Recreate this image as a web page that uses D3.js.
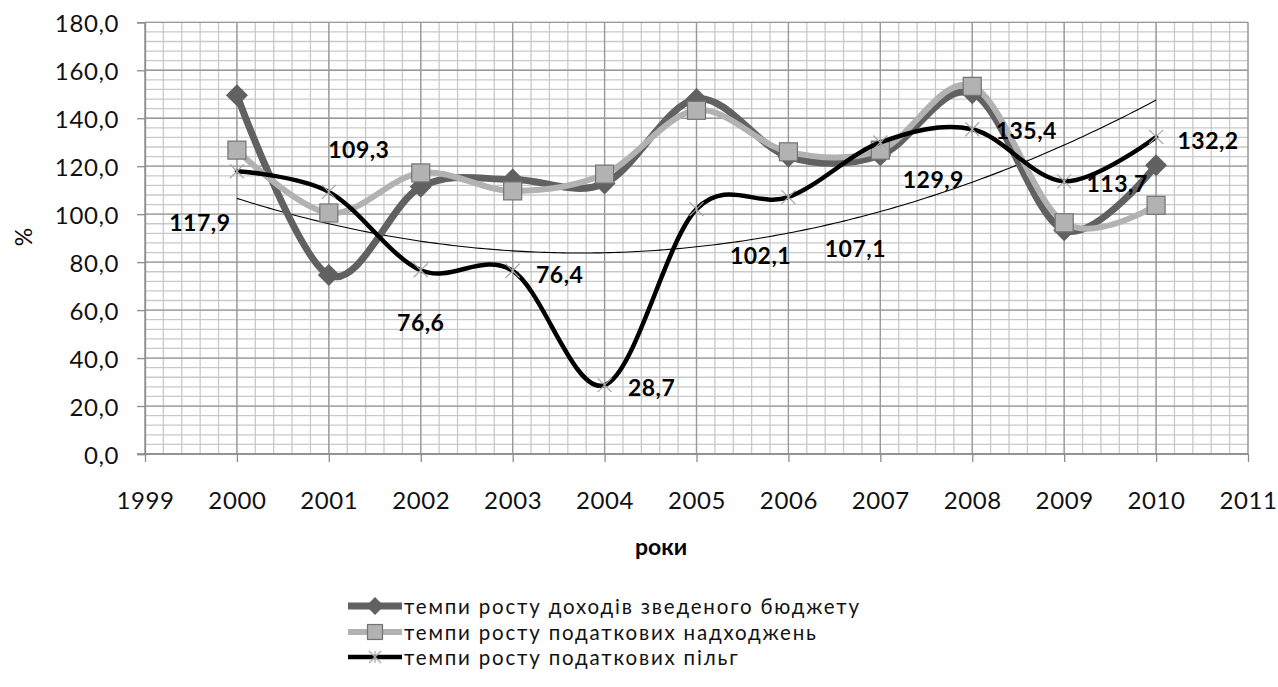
<!DOCTYPE html>
<html><head><meta charset="utf-8">
<script src="https://cdn.jsdelivr.net/npm/d3@7"></script>
<style>
html,body{margin:0;padding:0;background:#fff;}
text{font-family:Lato,"Open Sans",sans-serif;}
</style></head>
<body><svg id="c" width="1278" height="687"></svg>
<script>
const years = [2000,2001,2002,2003,2004,2005,2006,2007,2008,2009,2010];
const revenueGrowth = [149.6,74.6,111.4,114.5,112.8,148.0,124.0,124.6,150.4,93.3,120.4];
const taxIncomeGrowth = [126.7,100.5,117.2,109.7,116.7,143.3,126.0,126.7,153.3,96.4,103.7];
const taxBenefitGrowth = [117.9,109.3,76.6,76.4,28.7,102.1,107.1,129.9,135.4,113.7,132.2];
const benefitLabels = ["117,9","109,3","76,6","76,4","28,7","102,1","107,1","129,9","135,4","113,7","132,2"];
const seriesNames = ["темпи росту доходів зведеного бюджету","темпи росту податкових надходжень","темпи росту податкових пільг"];
const yTicks = [0,20,40,60,80,100,120,140,160,180];
const xTicks = [1999,2000,2001,2002,2003,2004,2005,2006,2007,2008,2009,2010,2011];
// label offsets (px) relative to data point, for the benefit series labels
const labelDx = [-37,30,0,47,47,64,67,53,54,53,52];
const labelDy = [51,-43,52,3,2,46,51,37,1,2,3];

const svg = d3.select("#c");
const L=145,R=1248,T=22.3,B=454;
const x = d3.scaleLinear().domain([1999,2011]).range([L,R]);
const y = d3.scaleLinear().domain([0,180]).range([B,T]);

// minor grid
const g = svg.append("g");
const minorX = d3.range(1999,2011.001,0.2), minorY = d3.range(0,180.001,4);
g.selectAll(".mx").data(minorX).join("line").attr("x1",d=>x(d)).attr("x2",d=>x(d)).attr("y1",T).attr("y2",B)
 .attr("stroke","#c9c9c9").attr("stroke-width",1.3);
g.selectAll(".my").data(minorY).join("line").attr("y1",d=>y(d)).attr("y2",d=>y(d)).attr("x1",L).attr("x2",R)
 .attr("stroke","#c9c9c9").attr("stroke-width",1.3);
// major grid
g.selectAll(".Mx").data(xTicks).join("line").attr("x1",d=>x(d)).attr("x2",d=>x(d)).attr("y1",T).attr("y2",B)
 .attr("stroke","#9a9a9a").attr("stroke-width",1.3);
g.selectAll(".My").data(yTicks).join("line").attr("y1",d=>y(d)).attr("y2",d=>y(d)).attr("x1",L).attr("x2",R)
 .attr("stroke","#9a9a9a").attr("stroke-width",1.3);

// axes
const xAxis = d3.axisBottom(x).tickValues(xTicks).tickFormat(d3.format("d")).tickSize(8);
const yAxis = d3.axisLeft(y).tickValues(yTicks).tickFormat(d=>d.toFixed(1).replace(".",",")).tickSize(8).tickPadding(18);
const ax = svg.append("g").attr("transform",`translate(0,${B})`).call(xAxis);
const ay = svg.append("g").attr("transform",`translate(${L},0)`).call(yAxis);
[ax,ay].forEach(a=>{
  a.select(".domain").attr("stroke","#8c8c8c").attr("stroke-width",1.3);
  a.selectAll(".tick line").attr("stroke","#8c8c8c").attr("stroke-width",1.3);
  a.selectAll("text").attr("font-size",24).attr("fill","#111").style("font-family","Lato,sans-serif").attr("letter-spacing",0.6);
});
ax.selectAll(".tick text").attr("dy",null).attr("y",45).attr("dominant-baseline","central");
ay.selectAll(".tick text").attr("dy",null).attr("dominant-baseline","central");
ax.select(".domain").attr("d",`M${L-8},0H${R}`);

// trendline: quadratic least-squares fit of benefit series
(function(){
  const n=years.length, xs=years.map(v=>v-2005), ys=taxBenefitGrowth;
  const S=k=>d3.sum(xs,v=>Math.pow(v,k));
  const Sy=k=>d3.sum(xs,(v,i)=>Math.pow(v,k)*ys[i]);
  const A=[[n,S(1),S(2)],[S(1),S(2),S(3)],[S(2),S(3),S(4)]], bb=[Sy(0),Sy(1),Sy(2)];
  for(let i=0;i<3;i++){for(let j=i+1;j<3;j++){const f=A[j][i]/A[i][i];for(let k=i;k<3;k++)A[j][k]-=f*A[i][k];bb[j]-=f*bb[i];}}
  const c=[0,0,0];for(let i=2;i>=0;i--){let s=bb[i];for(let k=i+1;k<3;k++)s-=A[i][k]*c[k];c[i]=s/A[i][i];}
  const pts=d3.range(2000,2010.001,0.05).map(t=>{const u=t-2005;return [x(t),y(c[0]+c[1]*u+c[2]*u*u)];});
  svg.append("path").attr("d",d3.line()(pts)).attr("fill","none").attr("stroke","#000").attr("stroke-width",1.1);
})();

const curve = d3.curveCardinal.tension(0);
const line = d3.line().curve(curve);
function drawLine(vals,color,w){
  svg.append("path").attr("d",line(years.map((yr,i)=>[x(yr),y(vals[i])])))
    .attr("fill","none").attr("stroke",color).attr("stroke-width",w).attr("stroke-linejoin","round").attr("stroke-linecap","round");
}
function diamond(sel,cx,cy,r){sel.append("path").attr("d",`M${cx},${cy-r}L${cx+r},${cy}L${cx},${cy+r}L${cx-r},${cy}Z`).attr("fill","#616161");}
function square(sel,cx,cy,s){sel.append("rect").attr("x",cx-s/2).attr("y",cy-s/2).attr("width",s).attr("height",s).attr("fill","#b2b2b2").attr("stroke","#737373").attr("stroke-width",1.2);}
function star(sel,cx,cy,r){sel.append("path").attr("d",`M${cx-r},${cy-r}L${cx+r},${cy+r}M${cx-r},${cy+r}L${cx+r},${cy-r}M${cx},${cy-r}L${cx},${cy+r}`).attr("stroke","#a6a6a6").attr("stroke-width",1.2).attr("fill","none");}

drawLine(revenueGrowth,"#616161",7);
years.forEach((yr,i)=>diamond(svg,x(yr),y(revenueGrowth[i]),11));
drawLine(taxIncomeGrowth,"#b2b2b2",6);
years.forEach((yr,i)=>square(svg,x(yr),y(taxIncomeGrowth[i]),18));
drawLine(taxBenefitGrowth,"#000",4.5);
years.forEach((yr,i)=>star(svg,x(yr),y(taxBenefitGrowth[i]),7));

// data labels
svg.selectAll(".dl").data(years).join("text")
  .attr("x",(d,i)=>x(d)+labelDx[i]).attr("y",(d,i)=>y(taxBenefitGrowth[i])+labelDy[i])
  .attr("text-anchor","middle").attr("dominant-baseline","central")
  .attr("font-size",23).attr("font-weight","bold").attr("letter-spacing",0.5).attr("fill","#000").text((d,i)=>benefitLabels[i]);

// axis titles
svg.append("text").attr("x",661).attr("y",546).attr("text-anchor","middle").attr("dominant-baseline","central")
  .attr("font-size",23).attr("font-weight","bold").text("роки");
svg.append("text").attr("transform","translate(23,237) rotate(-90)").attr("text-anchor","middle").attr("dominant-baseline","central")
  .attr("font-size",23).text("%");

// legend
const lg = svg.append("g");
const rows=[606,632,657];
const lx1=348,lx2=402,lmx=375;
const legendTarget = 455; // width of first legend text in reference
[["#616161",7],["#b2b2b2",6],["#000",4.5]].forEach((s,i)=>{
  lg.append("line").attr("x1",lx1).attr("x2",lx2).attr("y1",rows[i]).attr("y2",rows[i]).attr("stroke",s[0]).attr("stroke-width",s[1]);
  if(i===0) diamond(lg,lmx,rows[i],9);
  if(i===1) square(lg,lmx,rows[i],15);
  if(i===2) star(lg,lmx,rows[i],6);
  lg.append("text").attr("class","lt").attr("x",lx2+2).attr("y",rows[i]).attr("dominant-baseline","central").attr("font-size",20.5).attr("fill","#111").text(seriesNames[i]);
});
const t0 = lg.select(".lt").node();
const ls = Math.max(0,(legendTarget - t0.getComputedTextLength())/(seriesNames[0].length-1));
lg.selectAll(".lt").attr("letter-spacing",ls);
</script></body></html>
